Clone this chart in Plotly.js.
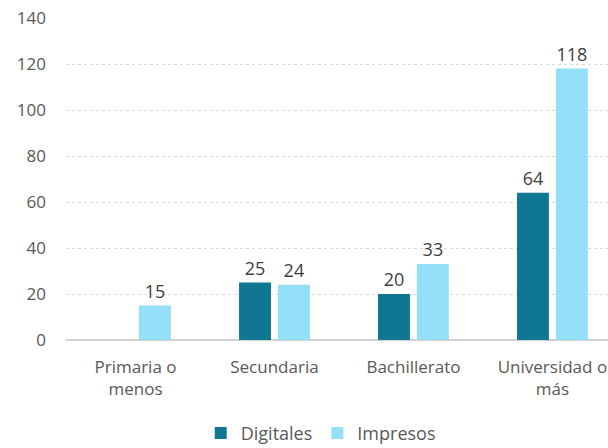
<!DOCTYPE html>
<html><head><meta charset="utf-8">
<script src="https://cdn.plot.ly/plotly-3.0.1.min.js"></script>
<style>html,body{margin:0;padding:0;background:#fff;overflow:hidden}</style>
</head><body><div id="chart" style="width:608px;height:448px"></div>
<script>
const categories = ["Primaria o<br>menos", "Secundaria", "Bachillerato", "Universidad o<br>más"];
const digitales = [null, 25, 20, 64];
const impresos = [15, 24, 33, 118];
const yTicks = [0, 20, 40, 60, 80, 100, 120, 140];

const font = "'Open Sans', sans-serif";
const mk = (name, vals, color) => ({
  type: "bar", name: name, x: categories, y: vals,
  marker: {color: color},
  text: vals.map(v => v === null ? "" : String(v)),
  textposition: "outside", cliponaxis: false,
  textfont: {family: font, size: 18, color: "#404040"},
  hoverinfo: "none"
});
const data = [mk("Digitales", digitales, "#0f7793"), mk("Impresos", impresos, "#93e0f8")];
const layout = {
  width: 608, height: 448,
  margin: {l: 66, r: 0, t: 18, b: 108, autoexpand: false},
  paper_bgcolor: "#fff", plot_bgcolor: "#fff",
  barmode: "group", bargap: 0.44, bargroupgap: 0.18,
  font: {family: font, size: 18, color: "#595959"},
  xaxis: {range: [-0.5, 3.4], tickfont: {family: font, size: 17, color: "#595959"}, showgrid: false, showline: false, ticks: "", automargin: false, ticklabelstandoff: 15},
  yaxis: {range: [0, 140], tickvals: yTicks, ticktext: yTicks.map(String), showgrid: true,
          gridcolor: "#d9d9d9", griddash: "dot", gridwidth: 1, automargin: false,
          zeroline: true, zerolinecolor: "#d0d0d0", zerolinewidth: 2,
          ticklabelstandoff: 19, tickfont: {family: font, size: 17, color: "#595959"}},
  showlegend: true,
  legend: {orientation: "h", x: 0.47, xanchor: "center", y: -0.29, yanchor: "middle",
           font: {family: font, size: 18, color: "#595959"}, itemwidth: 30}
};
Plotly.newPlot("chart", data, layout, {staticPlot: true, displayModeBar: false});
</script></body></html>
